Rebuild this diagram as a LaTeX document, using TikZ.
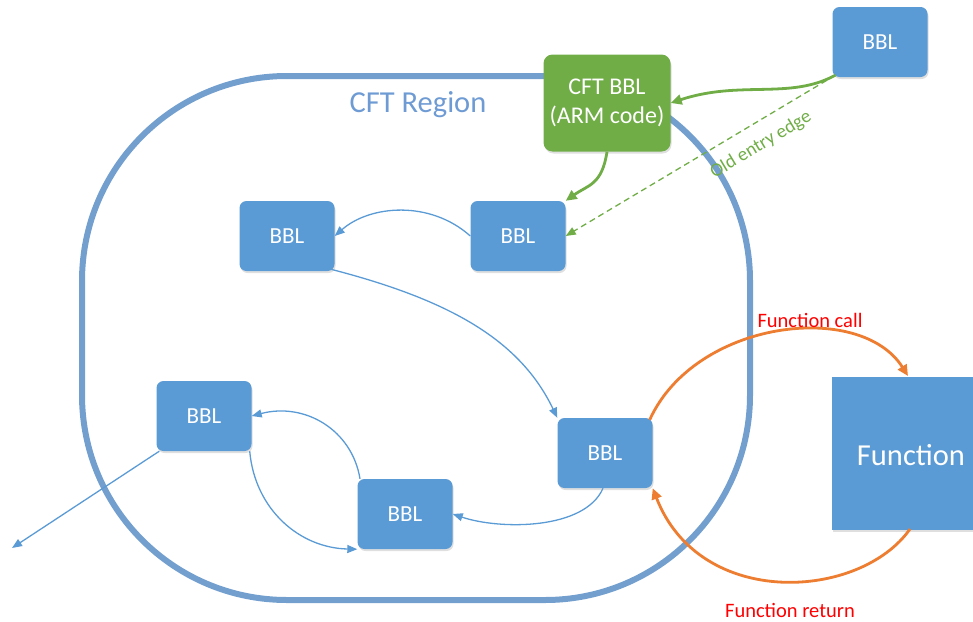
\documentclass[tikz,border=0pt]{standalone}
\usepackage{fontspec}
\setmainfont{Carlito}
\usetikzlibrary{arrows.meta,shadows}
\definecolor{boxblue}{HTML}{5B9BD5}
\definecolor{regblue}{HTML}{739FCF}
\definecolor{regtext}{HTML}{6E9BD3}
\definecolor{cftgreen}{HTML}{70AD47}
\definecolor{callorange}{HTML}{ED7D31}
\definecolor{labelred}{HTML}{FF0000}
\tikzset{
  boxshadow/.style={drop shadow={opacity=0.25,shadow xshift=1pt,shadow yshift=-2pt}},
  bbl/.style={rounded corners=7pt, fill=boxblue, minimum width=95pt, minimum height=70pt,
    text=white, inner sep=0pt, font=\fontsize{23}{25}\selectfont, boxshadow},
  cftbox/.style={rounded corners=9pt, fill=cftgreen, minimum width=127pt, minimum height=97pt,
    text=white, inner sep=0pt, align=center, font=\fontsize{24}{29}\selectfont, boxshadow},
  funcbox/.style={fill=boxblue, minimum width=160pt, minimum height=153pt, text=white,
    inner sep=0pt, boxshadow},
  region/.style={draw=regblue, line width=6pt, rounded corners=205pt},
  flow/.style={draw=boxblue, line width=1.3pt, -{Triangle[length=10pt,width=8pt]}},
  greenflow/.style={draw=cftgreen, line width=2.8pt, -{Triangle[length=11pt,width=10pt]}},
  oldedge/.style={draw=cftgreen, line width=1.3pt, dashed, dash pattern=on 6pt off 4pt,
    -{Triangle[length=10pt,width=8pt]}},
  callflow/.style={draw=callorange, line width=2.8pt, -{Triangle[length=11pt,width=10pt]}},
  redlabel/.style={text=labelred, font=\fontsize{20.5}{24}\selectfont},
}
\begin{document}
\begin{tikzpicture}[x=1pt,y=-1pt]
\useasboundingbox (0,0) rectangle (973,621);
\clip (0,0) rectangle (973,621);
% region outline
\draw[region] (82,76) rectangle (750,600);
\node[text=regtext, font=\fontsize{30.5}{34}\selectfont] (regionlabel) at (418,105) {CFT Region};
% boxes
\node[bbl] (top) at (880,42) {BBL};
\node[cftbox] (cft) at (607,103) {CFT BBL\\(ARM code)};
\node[bbl] (a) at (287,236) {BBL};
\node[bbl] (b) at (518,236) {BBL};
\node[bbl] (c) at (204,416) {BBL};
\node[bbl] (d) at (405,514) {BBL};
\node[bbl] (e) at (605,453) {BBL};
\node[funcbox] (func) at (912,453) {};
\node[text=white, font=\fontsize{30.5}{34}\selectfont] (functext) at (911,455) {Function};
\coordinate (exit) at (12,548);
% green edges
\draw[greenflow] (top.south west) ++(3,-2) coordinate (ts) .. controls (790,100) and (740,80) .. (cft.east);
\draw[greenflow] (cft.south) .. controls (602,185) and (588,185) .. (b.north east);
\draw[oldedge] (ts) -- (b.east);
\node[rotate=31, text=cftgreen, font=\fontsize{19}{22}\selectfont] (oldlabel) at (761,145) {Old entry edge};
% blue flow edges
\draw[flow] (b.west) .. controls (430,200) and (370,205) .. (a.east);
\draw[flow] (a.south east) ++(-4,-2) .. controls (450,300) and (520,340) .. (e.north west);
\draw[flow] (e.south) ++(-2,0) .. controls (585,530) and (500,530) .. (d.east);
\draw[flow] (d.north) ++(-45,0) .. controls (352,430) and (305,402) .. (c.east);
\draw[flow] (c.south east) ++(-2,0) .. controls (255,510) and (300,548) .. (d.south west);
\draw[flow] (c.south west) ++(3,0) -- (exit);
% function call / return
\draw[callflow] (e.north east) ++(-3,2) .. controls (695,320) and (860,300) .. (908,376);
\node[redlabel] (calllabel) at (810,320) {Function call};
\draw[callflow] (910,529) .. controls (860,600) and (700,610) .. (e.south east);
\node[redlabel] (retlabel) at (790,610) {Function return};
\end{tikzpicture}
\end{document}
